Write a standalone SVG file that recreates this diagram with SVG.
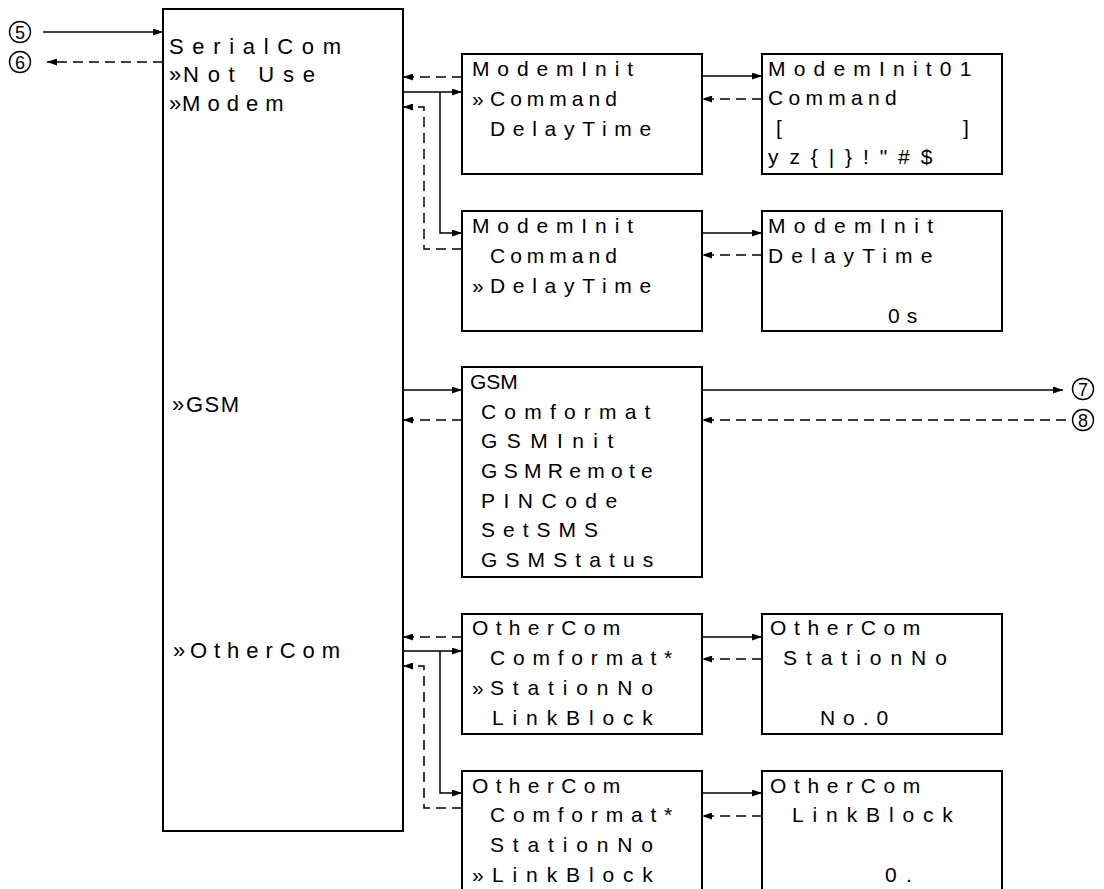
<svg xmlns="http://www.w3.org/2000/svg" width="1104" height="889" viewBox="0 0 1104 889">
<style>
.box{fill:#fff;stroke:#000;stroke-width:2}
.s{fill:none;stroke:#000;stroke-width:1.5;marker-end:url(#ah)}
.d{fill:none;stroke:#000;stroke-width:1.5;stroke-dasharray:10 6;marker-end:url(#ah)}
.t{font-family:"Liberation Sans",Arial,sans-serif;font-size:21px;fill:#000}
.m{font-size:22px}
.cc{fill:#fff;stroke:#000;stroke-width:1.4}
.c{font-family:"Liberation Sans",Arial,sans-serif;font-size:18px;text-anchor:middle;fill:#000}
</style>
<defs>
<marker id="ah" viewBox="0 0 10 7" refX="10" refY="3.5" markerWidth="10" markerHeight="7" markerUnits="userSpaceOnUse" orient="auto"><path d="M0,0 L10,3.5 L0,7 z" fill="#000"/></marker>
</defs>
<rect width="1104" height="889" fill="#fff"/>

<g id="connectors">
<path class="s" d="M43,32 H163"/>
<path class="d" d="M163,62 H47"/>
<path class="d" d="M462,77 H403"/>
<path class="s" d="M403,92 H462"/>
<path class="s" d="M440,92 V233 H462"/>
<path class="d" d="M462,249 H424 V107 H403"/>
<path class="s" d="M702,76 H762"/>
<path class="d" d="M762,99 H702"/>
<path class="s" d="M702,233 H762"/>
<path class="d" d="M762,255 H702"/>
<path class="s" d="M403,390 H462"/>
<path class="d" d="M462,420 H403"/>
<path class="s" d="M702,390 H1063"/>
<path class="d" d="M1066,420 H702"/>
<path class="d" d="M462,637 H403"/>
<path class="s" d="M403,651 H462"/>
<path class="s" d="M440,651 V793 H462"/>
<path class="d" d="M462,808 H424 V666 H403"/>
<path class="s" d="M702,637 H762"/>
<path class="d" d="M762,659 H702"/>
<path class="s" d="M702,793 H762"/>
<path class="d" d="M762,816 H702"/>
</g>

<g id="ref5"><circle class="cc" cx="20" cy="32" r="10.5"/><text class="c" x="20" y="38.5">5</text></g>
<g id="ref6"><circle class="cc" cx="20" cy="62" r="10.5"/><text class="c" x="20" y="68.5">6</text></g>
<g id="ref7"><circle class="cc" cx="1083" cy="389" r="10.5"/><text class="c" x="1083" y="395.5">7</text></g>
<g id="ref8"><circle class="cc" cx="1083" cy="420" r="10.5"/><text class="c" x="1083" y="426.5">8</text></g>

<g id="serialcom">
<rect class="box" x="163" y="9" width="240" height="822"/>
<text class="t m" x="169" y="54" letter-spacing="8.67">SerialCom</text>
<text class="t m" y="82"><tspan x="169">»</tspan><tspan x="183" letter-spacing="8.75">Not Use</tspan></text>
<text class="t m" y="111"><tspan x="169">»</tspan><tspan x="182" letter-spacing="7.07">Modem</tspan></text>
<text class="t m" y="412"><tspan x="172">»</tspan><tspan x="186" letter-spacing="1.46">GSM</tspan></text>
<text class="t m" y="658"><tspan x="173">»</tspan><tspan x="190" letter-spacing="6.94">OtherCom</tspan></text>
</g>

<g id="modeminit-command">
<rect class="box" x="462" y="54" width="240" height="120"/>
<text class="t" x="472" y="76" letter-spacing="7.87">ModemInit</text>
<text class="t" y="106"><tspan x="472">»</tspan><tspan x="490" letter-spacing="5">Command</tspan></text>
<text class="t" x="490" y="136" letter-spacing="7.7">DelayTime</text>
</g>

<g id="modeminit-delaytime">
<rect class="box" x="462" y="211" width="240" height="120"/>
<text class="t" x="472" y="233" letter-spacing="7.87">ModemInit</text>
<text class="t" x="490" y="263" letter-spacing="5">Command</text>
<text class="t" y="293"><tspan x="472">»</tspan><tspan x="490" letter-spacing="7.7">DelayTime</tspan></text>
</g>

<g id="modeminit01-command">
<rect class="box" x="762" y="54" width="240" height="120"/>
<text class="t" x="768" y="76" letter-spacing="8.2">ModemInit01</text>
<text class="t" x="768" y="105" letter-spacing="5.3">Command</text>
<text class="t" y="135"><tspan x="776">[</tspan><tspan x="963">]</tspan></text>
<text class="t" x="768" y="164" letter-spacing="10.9">yz{|}!"#$</text>
</g>

<g id="modeminit-delaytime-value">
<rect class="box" x="762" y="211" width="240" height="120"/>
<text class="t" x="768" y="233" letter-spacing="8.37">ModemInit</text>
<text class="t" x="768" y="263" letter-spacing="8.1">DelayTime</text>
<text class="t" x="888" y="323" letter-spacing="7">0s</text>
</g>

<g id="gsm">
<rect class="box" x="462" y="367" width="240" height="210"/>
<text class="t" x="470" y="389">GSM</text>
<text class="t" x="481" y="419" letter-spacing="8.2">Comformat</text>
<text class="t" x="481" y="448" letter-spacing="9.4">GSMInit</text>
<text class="t" x="481" y="478" letter-spacing="6.3">GSMRemote</text>
<text class="t" x="481" y="508" letter-spacing="8.5">PINCode</text>
<text class="t" x="481" y="537" letter-spacing="8">SetSMS</text>
<text class="t" x="481" y="567" letter-spacing="8.1">GSMStatus</text>
</g>

<g id="othercom-stationno">
<rect class="box" x="462" y="614" width="240" height="120"/>
<text class="t" x="472" y="635" letter-spacing="7.34">OtherCom</text>
<text class="t" x="490" y="665" letter-spacing="7.8">Comformat*</text>
<text class="t" y="695"><tspan x="472">»</tspan><tspan x="490" letter-spacing="8.85">StationNo</tspan></text>
<text class="t" x="492" y="725" letter-spacing="8.87">LinkBlock</text>
</g>

<g id="othercom-linkblock">
<rect class="box" x="462" y="771" width="240" height="130"/>
<text class="t" x="472" y="793" letter-spacing="7.34">OtherCom</text>
<text class="t" x="490" y="822" letter-spacing="7.8">Comformat*</text>
<text class="t" x="490" y="852" letter-spacing="8.85">StationNo</text>
<text class="t" y="882"><tspan x="472">»</tspan><tspan x="492" letter-spacing="8.87">LinkBlock</tspan></text>
</g>

<g id="othercom-stationno-value">
<rect class="box" x="762" y="614" width="240" height="120"/>
<text class="t" x="770" y="635" letter-spacing="7.64">OtherCom</text>
<text class="t" x="783" y="665" letter-spacing="8.95">StationNo</text>
<text class="t" x="820" y="725" letter-spacing="7.9">No.0</text>
</g>

<g id="othercom-linkblock-value">
<rect class="box" x="762" y="771" width="240" height="130"/>
<text class="t" x="770" y="793" letter-spacing="7.64">OtherCom</text>
<text class="t" x="792" y="822" letter-spacing="8.87">LinkBlock</text>
<text class="t" x="885" y="882" letter-spacing="9.2">0.</text>
</g>
</svg>
